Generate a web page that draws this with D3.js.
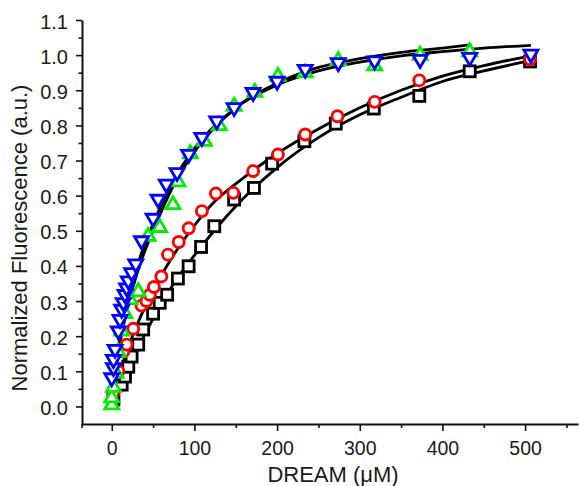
<!DOCTYPE html>
<html><head><meta charset="utf-8">
<script src="https://cdn.jsdelivr.net/npm/d3@7"></script>
<style>body{margin:0;background:#fff;} svg{display:block;} text{font-family:"Liberation Sans",Arial,sans-serif;fill:#1a1a1a;}</style>
</head><body>
<svg id="c" width="579" height="486"></svg>
<script>
// ---- data (x = DREAM µM, y = normalized fluorescence) ----
const blackX = [2, 12, 16, 20, 24, 32, 38, 50, 58, 67, 80, 93, 108, 124, 148, 172, 194, 233, 271, 317, 372, 433, 506];
const blackY = [0.02, 0.062, 0.085, 0.113, 0.142, 0.176, 0.219, 0.264, 0.295, 0.318, 0.364, 0.399, 0.454, 0.513, 0.589, 0.622, 0.691, 0.755, 0.805, 0.848, 0.884, 0.954, 0.982];

const redX = [2, 8, 14, 18, 26, 36, 42, 46, 51, 60, 68, 81, 93, 109, 126, 147, 171, 201, 234, 273, 318, 372, 506];
const redY = [0.04, 0.10, 0.156, 0.176, 0.221, 0.287, 0.30, 0.318, 0.34, 0.37, 0.432, 0.468, 0.507, 0.556, 0.606, 0.608, 0.67, 0.717, 0.774, 0.826, 0.867, 0.928, 0.988];

const greenX = [0, 0, 2, 5, 8, 12, 16, 22, 32, 44, 58, 74, 80, 95, 112, 130, 148, 173, 201, 234, 274, 318, 373, 433];
const greenY = [0.01, 0.03, 0.06, 0.10, 0.16, 0.22, 0.27, 0.31, 0.332, 0.49, 0.515, 0.58, 0.645, 0.725, 0.76, 0.805, 0.86, 0.90, 0.945, 0.955, 0.99, 0.975, 1.005, 1.015];

const blueX = [0, 2, 2, 4, 8, 10, 12, 14, 16, 18, 20, 24, 29, 36, 50, 56, 66, 79, 93, 109, 127, 148, 171, 200, 234, 274, 318, 373, 433, 507];
const blueY = [0.076, 0.105, 0.128, 0.157, 0.209, 0.242, 0.271, 0.29, 0.313, 0.332, 0.352, 0.375, 0.40, 0.466, 0.53, 0.584, 0.627, 0.66, 0.712, 0.76, 0.807, 0.845, 0.888, 0.92, 0.954, 0.973, 0.978, 0.982, 0.988, 0.997];

// fitted curves
const fitBlackX = [0, 10, 25, 50, 75, 100, 150, 200, 250, 300, 350, 400, 450, 507];
const fitBlackY = [0.0, 0.05, 0.13, 0.25, 0.35, 0.43, 0.57, 0.68, 0.765, 0.83, 0.88, 0.925, 0.955, 0.985];
const fitRedX = [0, 10, 25, 50, 79, 100, 119, 159, 200, 250, 300, 350, 400, 450, 507];
const fitRedY = [0.03, 0.10, 0.20, 0.33, 0.446, 0.515, 0.57, 0.65, 0.72, 0.79, 0.85, 0.90, 0.94, 0.97, 0.998];
const fitGreenX = [0, 10, 20, 35, 50, 75, 100, 150, 200, 250, 300, 350, 400, 435];
const fitGreenY = [0.02, 0.18, 0.29, 0.41, 0.50, 0.63, 0.725, 0.85, 0.92, 0.965, 0.99, 1.008, 1.02, 1.03];
const fitBlueX = [0, 5, 10, 20, 35, 50, 75, 100, 150, 200, 250, 300, 350, 400, 450, 507];
const fitBlueY = [0.04, 0.12, 0.20, 0.31, 0.43, 0.52, 0.645, 0.735, 0.85, 0.915, 0.955, 0.98, 0.998, 1.01, 1.02, 1.028];

const xMajor = [0, 100, 200, 300, 400, 500];
const xMinor = [50, 150, 250, 350, 450, 550];
const yMajor = [0.0, 0.1, 0.2, 0.3, 0.4, 0.5, 0.6, 0.7, 0.8, 0.9, 1.0, 1.1];
const yMinor = [0.05, 0.15, 0.25, 0.35, 0.45, 0.55, 0.65, 0.75, 0.85, 0.95, 1.05];

const xTitle = "DREAM (\u03BCM)";
const yTitle = "Normalized Fluorescence (a.u.)";

// ---- drawing ----
const svg = d3.select("#c");
const L = 82, R = 578, T = 20, B = 424;
const x = d3.scaleLinear().domain([-36, 564]).range([L, R]);
const y = d3.scaleLinear().domain([-0.05, 1.1]).range([B, T]);

const zip = (xs, ys) => xs.map((v, i) => [v, ys[i]]);

// axes
const gx = svg.append("g").attr("transform", `translate(0,${B})`);
gx.call(d3.axisBottom(x).tickValues(xMinor).tickSize(4).tickFormat(""));
gx.call(g => g.select(".domain").remove());
const gx2 = svg.append("g").attr("transform", `translate(0,${B})`);
gx2.call(d3.axisBottom(x).tickValues(xMajor).tickSize(7).tickSizeOuter(0).tickFormat(d3.format("d")));
gx2.selectAll("text").attr("font-size", 19.5).attr("y", 31).attr("dy", 0);

const gy = svg.append("g").attr("transform", `translate(${L},0)`);
gy.call(d3.axisLeft(y).tickValues(yMinor).tickSize(3.5).tickFormat(""));
gy.call(g => g.select(".domain").remove());
const gy2 = svg.append("g").attr("transform", `translate(${L},0)`);
gy2.call(d3.axisLeft(y).tickValues(yMajor).tickSize(6).tickSizeOuter(0).tickPadding(8).tickFormat(d3.format(".1f")));
gy2.selectAll("text").attr("font-size", 20).attr("dy", "0.4em");

svg.selectAll(".domain").attr("stroke", "#111").attr("stroke-width", 2);
svg.selectAll(".tick line").attr("stroke", "#111").attr("stroke-width", 1.6);
// corner stub
svg.append("line").attr("x1", L).attr("x2", L).attr("y1", B).attr("y2", B + 4).attr("stroke", "#111").attr("stroke-width", 1.6);

svg.append("text").attr("x", 333).attr("y", 482).attr("text-anchor", "middle").attr("font-size", 22).text(xTitle);
svg.append("text").attr("transform", `translate(27,238) rotate(-90)`).attr("text-anchor", "middle").attr("font-size", 22).text(yTitle);

// fit lines
const line = d3.line().x(d => x(d[0])).y(d => y(d[1])).curve(d3.curveMonotoneX);
[[fitBlackX, fitBlackY], [fitRedX, fitRedY], [fitGreenX, fitGreenY], [fitBlueX, fitBlueY]].forEach(([xs, ys]) => {
  svg.append("path").datum(zip(xs, ys)).attr("d", line).attr("fill", "none").attr("stroke", "#000").attr("stroke-width", 2.8);
});

// markers
const sq = 5.5;
svg.append("g").selectAll("rect").data(zip(blackX, blackY)).join("rect")
  .attr("x", d => x(d[0]) - sq).attr("y", d => y(d[1]) - sq).attr("width", sq * 2).attr("height", sq * 2)
  .attr("fill", "#fff").attr("stroke", "#000").attr("stroke-width", 2.8);

svg.append("g").selectAll("circle").data(zip(redX, redY)).join("circle")
  .attr("cx", d => x(d[0])).attr("cy", d => y(d[1])).attr("r", 5.5)
  .attr("fill", "#fff").attr("stroke", "#ff0000").attr("stroke-width", 2.9);

const tw = 7, th = 6;
svg.append("g").selectAll("path").data(zip(greenX, greenY)).join("path")
  .attr("d", d => { const cx = x(d[0]), cy = y(d[1]); return `M${cx},${cy - th}L${cx + tw},${cy + th}L${cx - tw},${cy + th}Z`; })
  .attr("fill", "#fff").attr("stroke", "#00ee00").attr("stroke-width", 2.8).attr("stroke-linejoin", "miter");

svg.append("g").selectAll("path").data(zip(blueX, blueY)).join("path")
  .attr("d", d => { const cx = x(d[0]), cy = y(d[1]); return `M${cx - tw},${cy - th}L${cx + tw},${cy - th}L${cx},${cy + th}Z`; })
  .attr("fill", "#fff").attr("stroke", "#0000ff").attr("stroke-width", 2.8).attr("stroke-linejoin", "miter");
</script>
</body></html>
